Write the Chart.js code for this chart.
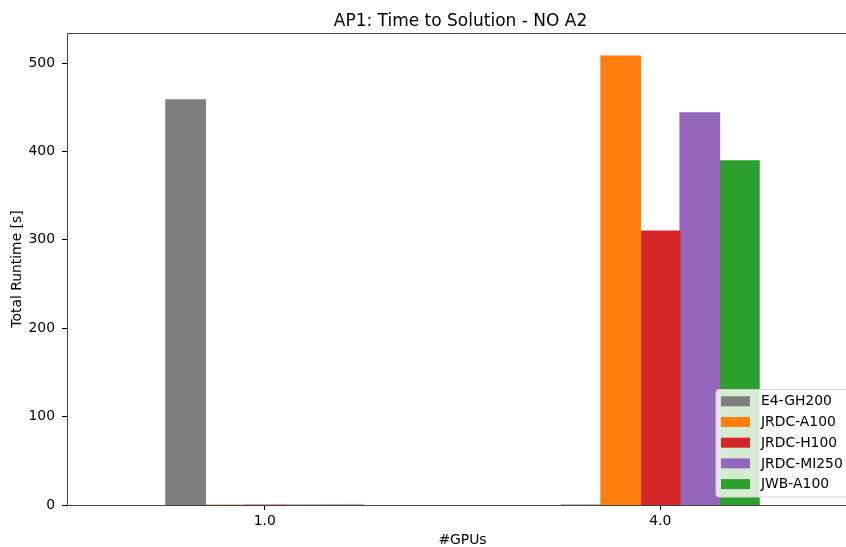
<!DOCTYPE html>
<html lang="en">
<head>
    <meta charset="UTF-8">
    <title>AP1: Time to Solution - NO A2</title>
    <style>
        body { margin: 0; background: #fff; }
        #wrap { width: 846px; height: 547px; overflow: hidden; }
    </style>
</head>
<body>
    <div id="wrap">
        <canvas id="myChart" width="870" height="547"></canvas>
    </div>

    <script src="https://cdn.jsdelivr.net/npm/chart.js@4.4.0/dist/chart.umd.min.js"></script>
    <script>
    // categories (#GPUs) and runtimes [s] per system
    var v_labels = ['1.0', '4.0'];
    var v_e4gh200 = [458.5, 0];
    var v_jrdcA100 = [0, 508];
    var v_jrdcH100 = [0, 310];
    var v_jrdcMI250 = [0, 443.7];
    var v_jwbA100 = [0, 389.4];
    var v_yTicks = [0, 100, 200, 300, 400, 500];
    var v_title = 'AP1: Time to Solution - NO A2';

    var v_font = "'DejaVu Sans', sans-serif";

    // title over the axes, top/right spines and matplotlib style legend (lower right)
    const mplFrame = {
        id: 'mplFrame',
        afterDraw(chart) {
            const c = chart.ctx;
            const a = chart.chartArea;
            c.save();
            c.fillStyle = '#000';
            c.font = '17px ' + v_font;
            c.textAlign = 'center';
            c.textBaseline = 'alphabetic';
            c.fillText(v_title, (a.left + a.right) / 2 - 2, 26);

            c.strokeStyle = '#444';
            c.lineWidth = 1;
            c.beginPath();
            c.moveTo(a.left, a.top + 0.5);
            c.lineTo(a.right, a.top + 0.5);
            c.moveTo(a.right - 0.5, a.top);
            c.lineTo(a.right - 0.5, a.bottom);
            c.stroke();

            // legend box
            var bx = 716, by = 389.5, bw = 136, bh = 107.5;
            c.fillStyle = 'rgba(255,255,255,0.8)';
            c.strokeStyle = '#d0d0d0';
            c.beginPath();
            c.roundRect(bx, by, bw, bh, 3);
            c.fill();
            c.stroke();

            c.font = '13.9px ' + v_font;
            c.textBaseline = 'middle';
            c.textAlign = 'left';
            chart.data.datasets.forEach(function (ds, i) {
                var cy = 401.3 + i * 20.7;
                c.fillStyle = ds.backgroundColor;
                c.fillRect(721, cy - 5, 29, 10);
                c.fillStyle = '#000';
                c.fillText(ds.label, 761, cy + 0.5);
            });
            c.restore();
        }
    };

    const ctx = document.getElementById('myChart').getContext('2d');
    const myChart = new Chart(ctx, {
        type: 'bar',
        data: {
            labels: v_labels,
            datasets: [
                { label: 'E4-GH200', data: v_e4gh200, backgroundColor: '#7f7f7f' },
                { label: 'JRDC-A100', data: v_jrdcA100, backgroundColor: '#ff7f0e' },
                { label: 'JRDC-H100', data: v_jrdcH100, backgroundColor: '#d62728' },
                { label: 'JRDC-MI250', data: v_jrdcMI250, backgroundColor: '#9467bd' },
                { label: 'JWB-A100', data: v_jwbA100, backgroundColor: '#2ca02c' }
            ]
        },
        options: {
            responsive: false,
            animation: false,
            devicePixelRatio: 1,
            categoryPercentage: 0.5,
            barPercentage: 1.0,
            borderWidth: 0,
            inflateAmount: 0.6,
            layout: { padding: { left: 0, right: 12, top: 33, bottom: 0 } },
            plugins: {
                legend: { display: false },
                tooltip: { enabled: false },
                title: { display: false }
            },
            scales: {
                x: {
                    offset: true,
                    afterFit: function (scale) { scale.height = 42; },
                    grid: { drawOnChartArea: false, offset: false, tickLength: 5, color: '#000' },
                    border: { color: '#444', width: 1 },
                    ticks: { color: '#000', padding: 3, font: { family: v_font, size: 13.9 } },
                    title: {
                        display: true, text: '#GPUs', color: '#000',
                        font: { family: v_font, size: 13.9, lineHeight: 1 },
                        padding: { top: 0, bottom: 0 }
                    }
                },
                y: {
                    min: 0,
                    max: 534,
                    afterFit: function (scale) { scale.width = 67; },
                    afterBuildTicks: function (scale) {
                        scale.ticks = v_yTicks.map(function (v) { return { value: v }; });
                    },
                    grid: { drawOnChartArea: false, tickLength: 5, color: '#000' },
                    border: { color: '#444', width: 1 },
                    ticks: { color: '#000', padding: 7, font: { family: v_font, size: 13.9 } },
                    title: {
                        display: true, text: 'Total Runtime [s]', color: '#000',
                        font: { family: v_font, size: 13.9, lineHeight: 1.2 },
                        padding: { top: 9, bottom: 0 }
                    }
                }
            }
        },
        plugins: [mplFrame]
    });
    </script>
</body>
</html>
